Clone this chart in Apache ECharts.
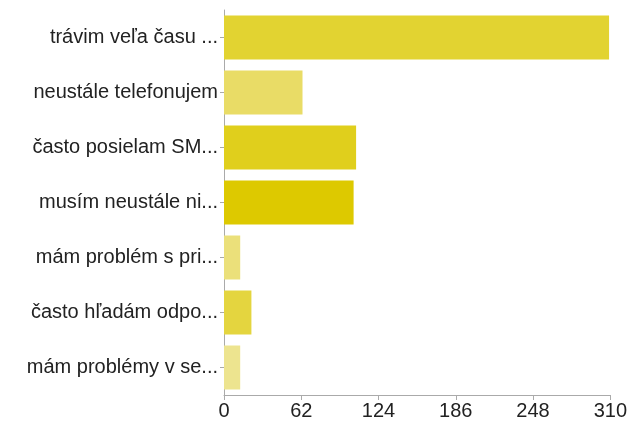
<!DOCTYPE html>
<html>
<head>
<meta charset="utf-8">
<script src="https://cdn.jsdelivr.net/npm/echarts@6/dist/echarts.min.js"></script>
<style>
  html, body { margin: 0; padding: 0; background: #fff; }
  #chart { width: 630px; height: 423px; }
</style>
</head>
<body>
<div id="chart"></div>
<script>
var categories = ['trávim veľa času ...', 'neustále telefonujem', 'často posielam SM...', 'musím neustále ni...', 'mám problém s pri...', 'často hľadám odpo...', 'mám problémy v se...'];
var values = [309, 63, 106, 104, 13, 22, 13];
var barColors = ['#e2d331', '#e9dc66', '#e0cf1c', '#ddc900', '#ebe07a', '#e4d53f', '#ede48f'];
var tickValues = [0, 62, 124, 186, 248, 310];

var chart = echarts.init(document.getElementById('chart'));

var option = {
    animation: false,
    grid: {
        left: 224,
        right: 18,
        top: 10,
        bottom: 28,
        containLabel: false
    },
    xAxis: {
        type: 'value',
        min: 0,
        max: 310,
        interval: 62,
        axisLine: { show: true, lineStyle: { color: '#aaa' } },
        axisTick: { show: true, length: 5, lineStyle: { color: '#aaa' } },
        splitLine: { show: false },
        axisLabel: {
            color: '#222',
            fontSize: 20,
            fontFamily: 'Liberation Sans',
            margin: 6,
            formatter: function (v) { return tickValues.indexOf(v) >= 0 ? String(v) : ''; }
        }
    },
    yAxis: {
        type: 'category',
        inverse: true,
        data: categories,
        axisLine: { show: true, lineStyle: { color: '#aaa' } },
        axisTick: { show: true, length: 4, alignWithLabel: true, lineStyle: { color: '#aaa' } },
        axisLabel: {
            color: '#222',
            fontSize: 20,
            fontFamily: 'Liberation Sans',
            margin: 6
        }
    },
    series: [{
        type: 'bar',
        barWidth: 44,
        data: values.map(function (v, i) {
            return { value: v, itemStyle: { color: barColors[i] } };
        })
    }]
};

chart.setOption(option);
</script>
</body>
</html>
